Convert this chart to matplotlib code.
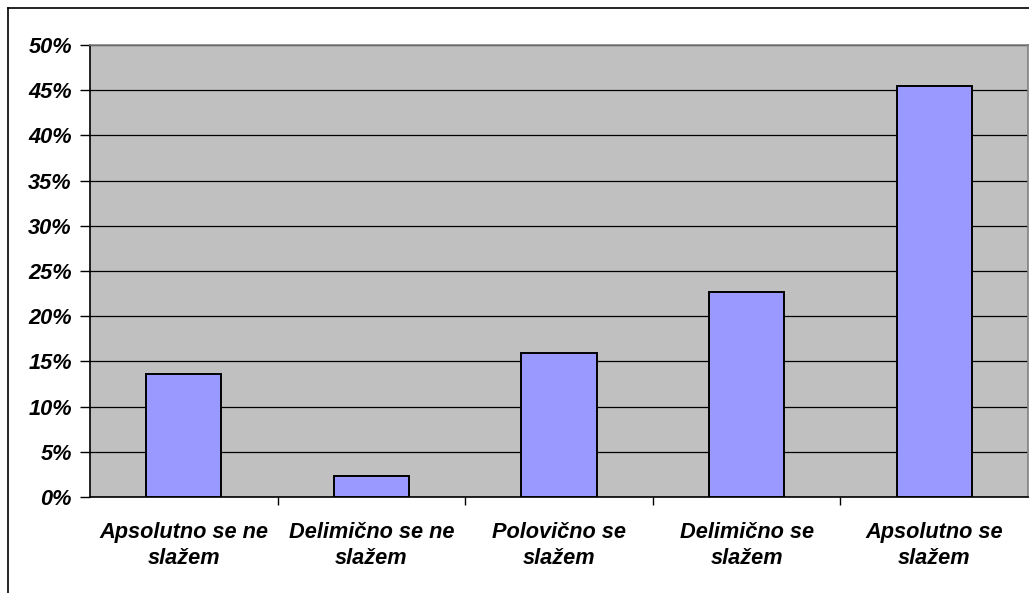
import matplotlib
matplotlib.use("Agg")
import matplotlib.pyplot as plt
from matplotlib.lines import Line2D
from matplotlib.ticker import FixedLocator, FuncFormatter

categories = [
    "Apsolutno se ne\nslažem",
    "Delimično se ne\nslažem",
    "Polovično se\nslažem",
    "Delimično se\nslažem",
    "Apsolutno se\nslažem",
]
shares = [13.64, 2.27, 15.91, 22.73, 45.45]
y_ticks = [0, 5, 10, 15, 20, 25, 30, 35, 40, 45, 50]

W, H = 1029, 593
fig = plt.figure(figsize=(W / 100, H / 100), dpi=100)
fig.patch.set_facecolor("white")

# outer chart frame (left and top edges visible)
fig.add_artist(Line2D([7.5 / W, 7.5 / W], [0, 1 - 7.5 / H], transform=fig.transFigure,
                      color="black", lw=1.2))
fig.add_artist(Line2D([7.5 / W, 1], [1 - 7.5 / H, 1 - 7.5 / H], transform=fig.transFigure,
                      color="black", lw=1.2))

left, right, top, bottom = 90, 1028, 45, 497
ax = fig.add_axes([left / W, 1 - bottom / H, (right - left) / W, (bottom - top) / H])
ax.set_facecolor("#C0C0C0")

x = list(range(len(categories)))
ax.bar(x, shares, width=0.4, color="#9999FF", edgecolor="black", linewidth=1.4, zorder=3)

ax.set_xlim(-0.5, len(categories) - 0.5)
ax.set_ylim(0, 50)

ax.yaxis.set_major_locator(FixedLocator(y_ticks))
ax.yaxis.set_major_formatter(FuncFormatter(lambda v, p: f"{int(v)}%"))
ax.grid(axis="y", color="black", linewidth=0.9, zorder=1)
ax.set_axisbelow(True)

font = dict(family="Liberation Sans", weight="bold", style="italic", size=15.7)
for lab in ax.get_yticklabels():
    lab.set(**font)
ax.tick_params(axis="y", length=7, width=1, pad=6, color="black")

ax.set_xticks(x)
ax.set_xticklabels(categories, **font, linespacing=1.3)
ax.tick_params(axis="x", which="major", length=0, pad=18)
ax.set_xticks([i - 0.5 for i in range(1, len(categories))], minor=True)
ax.tick_params(axis="x", which="minor", length=6, width=1, color="black")

for side in ("left", "bottom"):
    ax.spines[side].set_color("black")
    ax.spines[side].set_linewidth(1.2)
for side in ("top", "right"):
    ax.spines[side].set_color("#808080")
    ax.spines[side].set_linewidth(1.2)

fig.savefig("out.png", dpi=100)
